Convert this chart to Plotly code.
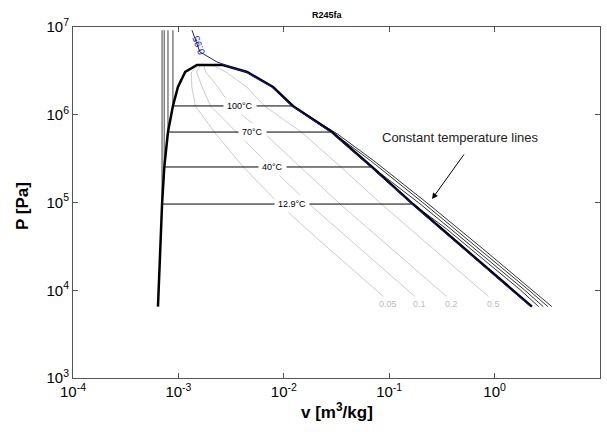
import math
import plotly.graph_objects as go

# ---------------- data ----------------
# saturation dome
sat_P = [6.5e3, 1e4, 2e4, 5e4, 9.6e4, 2.54e5, 6.35e5, 1.26e6, 2.07e6, 3.07e6, 3.69e6]
sat_vl = [6.4e-4, 6.5e-4, 6.6e-4, 6.8e-4, 7.0e-4, 7.35e-4, 7.96e-4, 8.87e-4, 9.9e-4, 1.16e-3, 1.50e-3]
sat_vv = [2.26, 1.49, 0.765, 0.315, 0.168, 0.0687, 0.0286, 0.0122, 0.0079, 0.00448, 0.00265]

# isotherms
iso_names = ["12.9°C", "40°C", "70°C", "100°C"]
iso_Psat = [9.6e4, 2.54e5, 6.35e5, 1.26e6]
iso_vl = [7.0e-4, 7.35e-4, 7.96e-4, 8.87e-4]
iso_vv = [0.168, 0.0687, 0.0286, 0.0122]
iso_Ptop = 9.2e6
# superheated branches (P, v)
sh_P = [
    [9.6e4, 5e4, 2e4, 1e4, 6.5e3],
    [2.54e5, 1e5, 5e4, 2e4, 1e4, 6.5e3],
    [6.35e5, 3e5, 1e5, 3e4, 1e4, 6.5e3],
    [1.26e6, 6e5, 3e5, 1e5, 3e4, 1e4, 6.5e3],
]
sh_v = [
    [0.168, 0.35, 0.88, 1.77, 2.62],
    [0.0687, 0.189, 0.383, 0.965, 1.935, 2.9],
    [0.0286, 0.0665, 0.208, 0.705, 2.12, 3.2],
    [0.0122, 0.0325, 0.0712, 0.226, 0.765, 2.31, 3.5],
]

# quality lines
q_names = ["0.05", "0.1", "0.2", "0.5"]
q_P = [8.5e3, 2e4, 5e4, 9.6e4, 2.54e5, 6.35e5, 1.26e6, 2.07e6, 3.07e6, 3.69e6]
q_v = [
    [0.0879, 0.0389, 0.0164, 0.00907, 0.00413, 0.00219, 0.00145, 0.00134, 0.00133, 0.00156],
    [0.175, 0.0771, 0.0321, 0.0174, 0.00753, 0.00358, 0.00202, 0.00168, 0.00149, 0.00162],
    [0.3495, 0.1535, 0.0635, 0.0342, 0.0143, 0.00636, 0.00315, 0.00237, 0.00182, 0.00173],
    [0.873, 0.383, 0.158, 0.0844, 0.0347, 0.0147, 0.00654, 0.00445, 0.00282, 0.00208],
]

# blue 0.95 line
blue_P = [9.2e6, 5.2e6, 4.0e6, 3.41e6, 3.07e6, 2.07e6, 1.26e6, 6.35e5, 2.54e5, 9.6e4, 5e4, 2e4, 1e4, 6.5e3]
blue_v = [1.345e-3, 1.6e-3, 2.32e-3, 3.3e-3, 4.4e-3, 7.7e-3, 0.0119, 0.0279, 0.067, 0.164, 0.307, 0.746, 1.455, 2.2]
blue_name = "0.95"

# axes ticks
x_tickvals = [1e-4, 1e-3, 1e-2, 1e-1, 1e0, 1e1]
x_ticktext = ["10<sup>-4</sup>", "10<sup>-3</sup>", "10<sup>-2</sup>", "10<sup>-1</sup>", "10<sup>0</sup>", "10<sup>1</sup>"]
y_tickvals = [1e3, 1e4, 1e5, 1e6, 1e7]
y_ticktext = ["10<sup>3</sup>", "10<sup>4</sup>", "10<sup>5</sup>", "10<sup>6</sup>", "10<sup>7</sup>"]

# label placements (data units)
iso_label_v = [0.01197, 7.73e-3, 5.1e-3, 3.84e-3]

FONT = "Liberation Sans, Arial, sans-serif"
L = math.log10

fig = go.Figure()

# quality lines
for name, vv in zip(q_names, q_v):
    fig.add_trace(go.Scatter(x=vv, y=q_P, mode="lines",
                             line=dict(color="#cccccc", width=1), hoverinfo="skip"))

# isotherms
for i in range(len(iso_names)):
    fig.add_trace(go.Scatter(x=[iso_vl[i], iso_vl[i]], y=[iso_Ptop, iso_Psat[i]], mode="lines",
                             line=dict(color="#808080", width=1.5)))
    fig.add_trace(go.Scatter(x=[iso_vl[i], iso_vv[i]], y=[iso_Psat[i], iso_Psat[i]], mode="lines",
                             line=dict(color="black", width=1)))
    fig.add_trace(go.Scatter(x=sh_v[i], y=sh_P[i], mode="lines",
                             line=dict(color="black", width=0.8)))

# saturation dome
dome_v = sat_vl + sat_vv[::-1]
dome_P = sat_P + sat_P[::-1]
fig.add_trace(go.Scatter(x=dome_v, y=dome_P, mode="lines",
                         line=dict(color="black", width=2.5)))

# blue line
fig.add_trace(go.Scatter(x=blue_v, y=blue_P, mode="lines",
                         line=dict(color="#1c1ca0", width=1)))

ann = []
for i, name in enumerate(iso_names):
    ann.append(dict(x=L(iso_label_v[i]), y=L(iso_Psat[i]), xref="x", yref="y", text=name,
                    showarrow=False, font=dict(family=FONT, size=9, color="black"),
                    bgcolor="white", borderpad=3))
for name, vv in zip(q_names, q_v):
    ann.append(dict(x=L(vv[0]), y=L(q_P[0]), xref="x", yref="y", text=name, showarrow=False,
                    xanchor="center", yanchor="middle", xshift=5, yshift=-8,
                    font=dict(family=FONT, size=9, color="#bbbbbb")))
ann.append(dict(x=L(1.55e-3), y=L(6.3e6), xref="x", yref="y", text=blue_name, showarrow=False,
                textangle=-110, font=dict(family=FONT, size=10, color="#1c1ca0")))
ann.append(dict(x=L(0.2547), y=L(1.096e5), xref="x", yref="y", ax=33, ay=-46, text="",
                showarrow=True, arrowhead=2, arrowsize=1.2, arrowwidth=1, arrowcolor="black"))
ann.append(dict(x=L(0.47), y=L(5.57e5), xref="x", yref="y", text="Constant temperature lines",
                showarrow=False, font=dict(family=FONT, size=13, color="#222222")))
ann.append(dict(x=0.482, y=1, xref="paper", yref="paper", text="<b>R245fa</b>", showarrow=False,
                yanchor="middle", yshift=12, font=dict(family=FONT, size=9, color="black")))
ann.append(dict(x=0.5, y=0, xref="paper", yref="paper", text="<b>v [m<sup>3</sup>/kg]</b>",
                showarrow=False, yanchor="top", yshift=-20, font=dict(family=FONT, size=17, color="black")))
ann.append(dict(x=0, y=0.49, xref="paper", yref="paper", text="<b>P [Pa]</b>", showarrow=False,
                textangle=-90, xanchor="center", xshift=-51, font=dict(family=FONT, size=17, color="black")))

axis_common = dict(type="log", showgrid=False, zeroline=False, showline=True, linecolor="#555555",
                   linewidth=1, mirror="ticks", ticks="inside", ticklen=5, tickcolor="#555555",
                   automargin=False,
                   tickfont=dict(family=FONT, size=15, color="black"))

fig.update_layout(
    width=607, height=432,
    margin=dict(l=73, r=7, t=27, b=54, autoexpand=False),
    paper_bgcolor="white", plot_bgcolor="white",
    showlegend=False,
    hovermode=False,
    annotations=ann,
    xaxis=dict(range=[-4, 1], tickvals=x_tickvals, ticktext=x_ticktext, **axis_common),
    yaxis=dict(range=[3, 7], tickvals=y_tickvals, ticktext=y_ticktext, **axis_common),
)

fig.write_html("out.html", config={"displayModeBar": False},
               post_script="document.body.style.margin='0px';document.body.style.overflow='hidden';")
